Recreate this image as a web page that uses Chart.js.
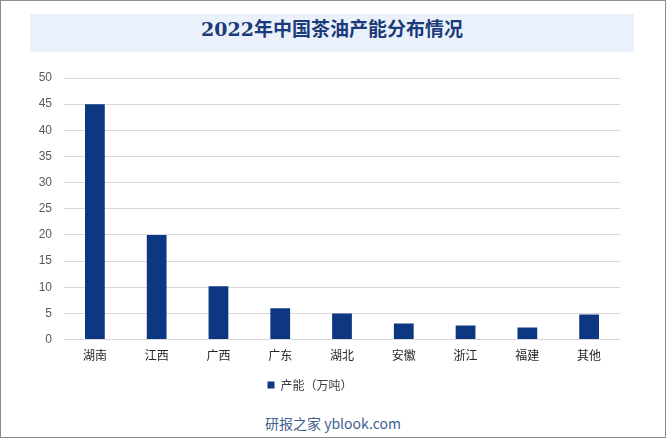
<!DOCTYPE html>
<html>
<head>
<meta charset="utf-8">
<script src="https://cdn.jsdelivr.net/npm/chart.js@4"></script>
<style>
  body { margin: 0; background: #fff; }
  #wrap { position: relative; width: 666px; height: 438px; box-sizing: border-box; border: 1px solid #8c8c8c; overflow: hidden; }
  #title { position: absolute; left: 29px; top: 13px; width: 604px; height: 38px; background: #eaf1fb;
    text-align: center; line-height: 38px; font: bold 19px "DejaVu Serif", "Noto Sans CJK SC", serif; color: #1b3a7a; }
  #box { position: absolute; left: -1px; top: -1px; width: 666px; height: 407px; }
  #footer { position: absolute; left: 0; width: 664px; top: 412px; text-align: center;
    font: 14px "Noto Sans CJK SC", "Liberation Sans", sans-serif; color: #41618f; }
</style>
</head>
<body>
<div id="wrap">
  <div id="title">2022年中国茶油产能分布情况</div>
  <div id="box"><canvas id="chart"></canvas></div>
  <div id="footer">研报之家 yblook.com</div>
</div>
<script>
// 产能（万吨），values
let provinces = ['湖南', '江西', '广西', '广东', '湖北', '安徽', '浙江', '福建', '其他']
let capacity = [45, 20, 10.2, 6, 5, 3.1, 2.7, 2.3, 4.8]
let yTicks = [0, 5, 10, 15, 20, 25, 30, 35, 40, 45, 50]

const data = {
    labels: provinces,
    datasets: [{
        label: '产能（万吨）',
        data: capacity,
        backgroundColor: '#0e3782',
        barPercentage: 0.32,
        categoryPercentage: 1
    }]
};

const config = {
    type: 'bar',
    data: data,
    options: {
        responsive: true,
        maintainAspectRatio: false,
        animation: false,
        layout: {
            padding: { top: 78, right: 46, bottom: 6, left: 0 }
        },
        plugins: {
            legend: {
                position: 'bottom',
                labels: {
                    usePointStyle: true,
                    pointStyle: 'rect',
                    boxWidth: 7,
                    boxHeight: 7,
                    padding: 7,
                    color: '#404040',
                    font: { size: 12, family: 'Noto Sans CJK SC' }
                }
            },
            tooltip: { enabled: false }
        },
        scales: {
            x: {
                grid: { display: false, drawTicks: false },
                border: { display: false },
                ticks: {
                    padding: 9,
                    color: '#262626',
                    font: { size: 12, family: 'Noto Sans CJK SC' }
                }
            },
            y: {
                min: 0,
                max: 50,
                afterFit: function (axis) { axis.width = 64; },
                afterBuildTicks: function (axis) {
                    axis.ticks = yTicks.map(v => ({ value: v }));
                },
                grid: { color: '#d9d9d9', lineWidth: 1, drawTicks: false },
                border: { display: false },
                ticks: {
                    padding: 12,
                    color: '#595959',
                    font: { size: 12, family: 'Liberation Sans' }
                }
            }
        }
    }
};

let myChart = new Chart(
    document.getElementById('chart'),
    config
);
</script>
</body>
</html>
